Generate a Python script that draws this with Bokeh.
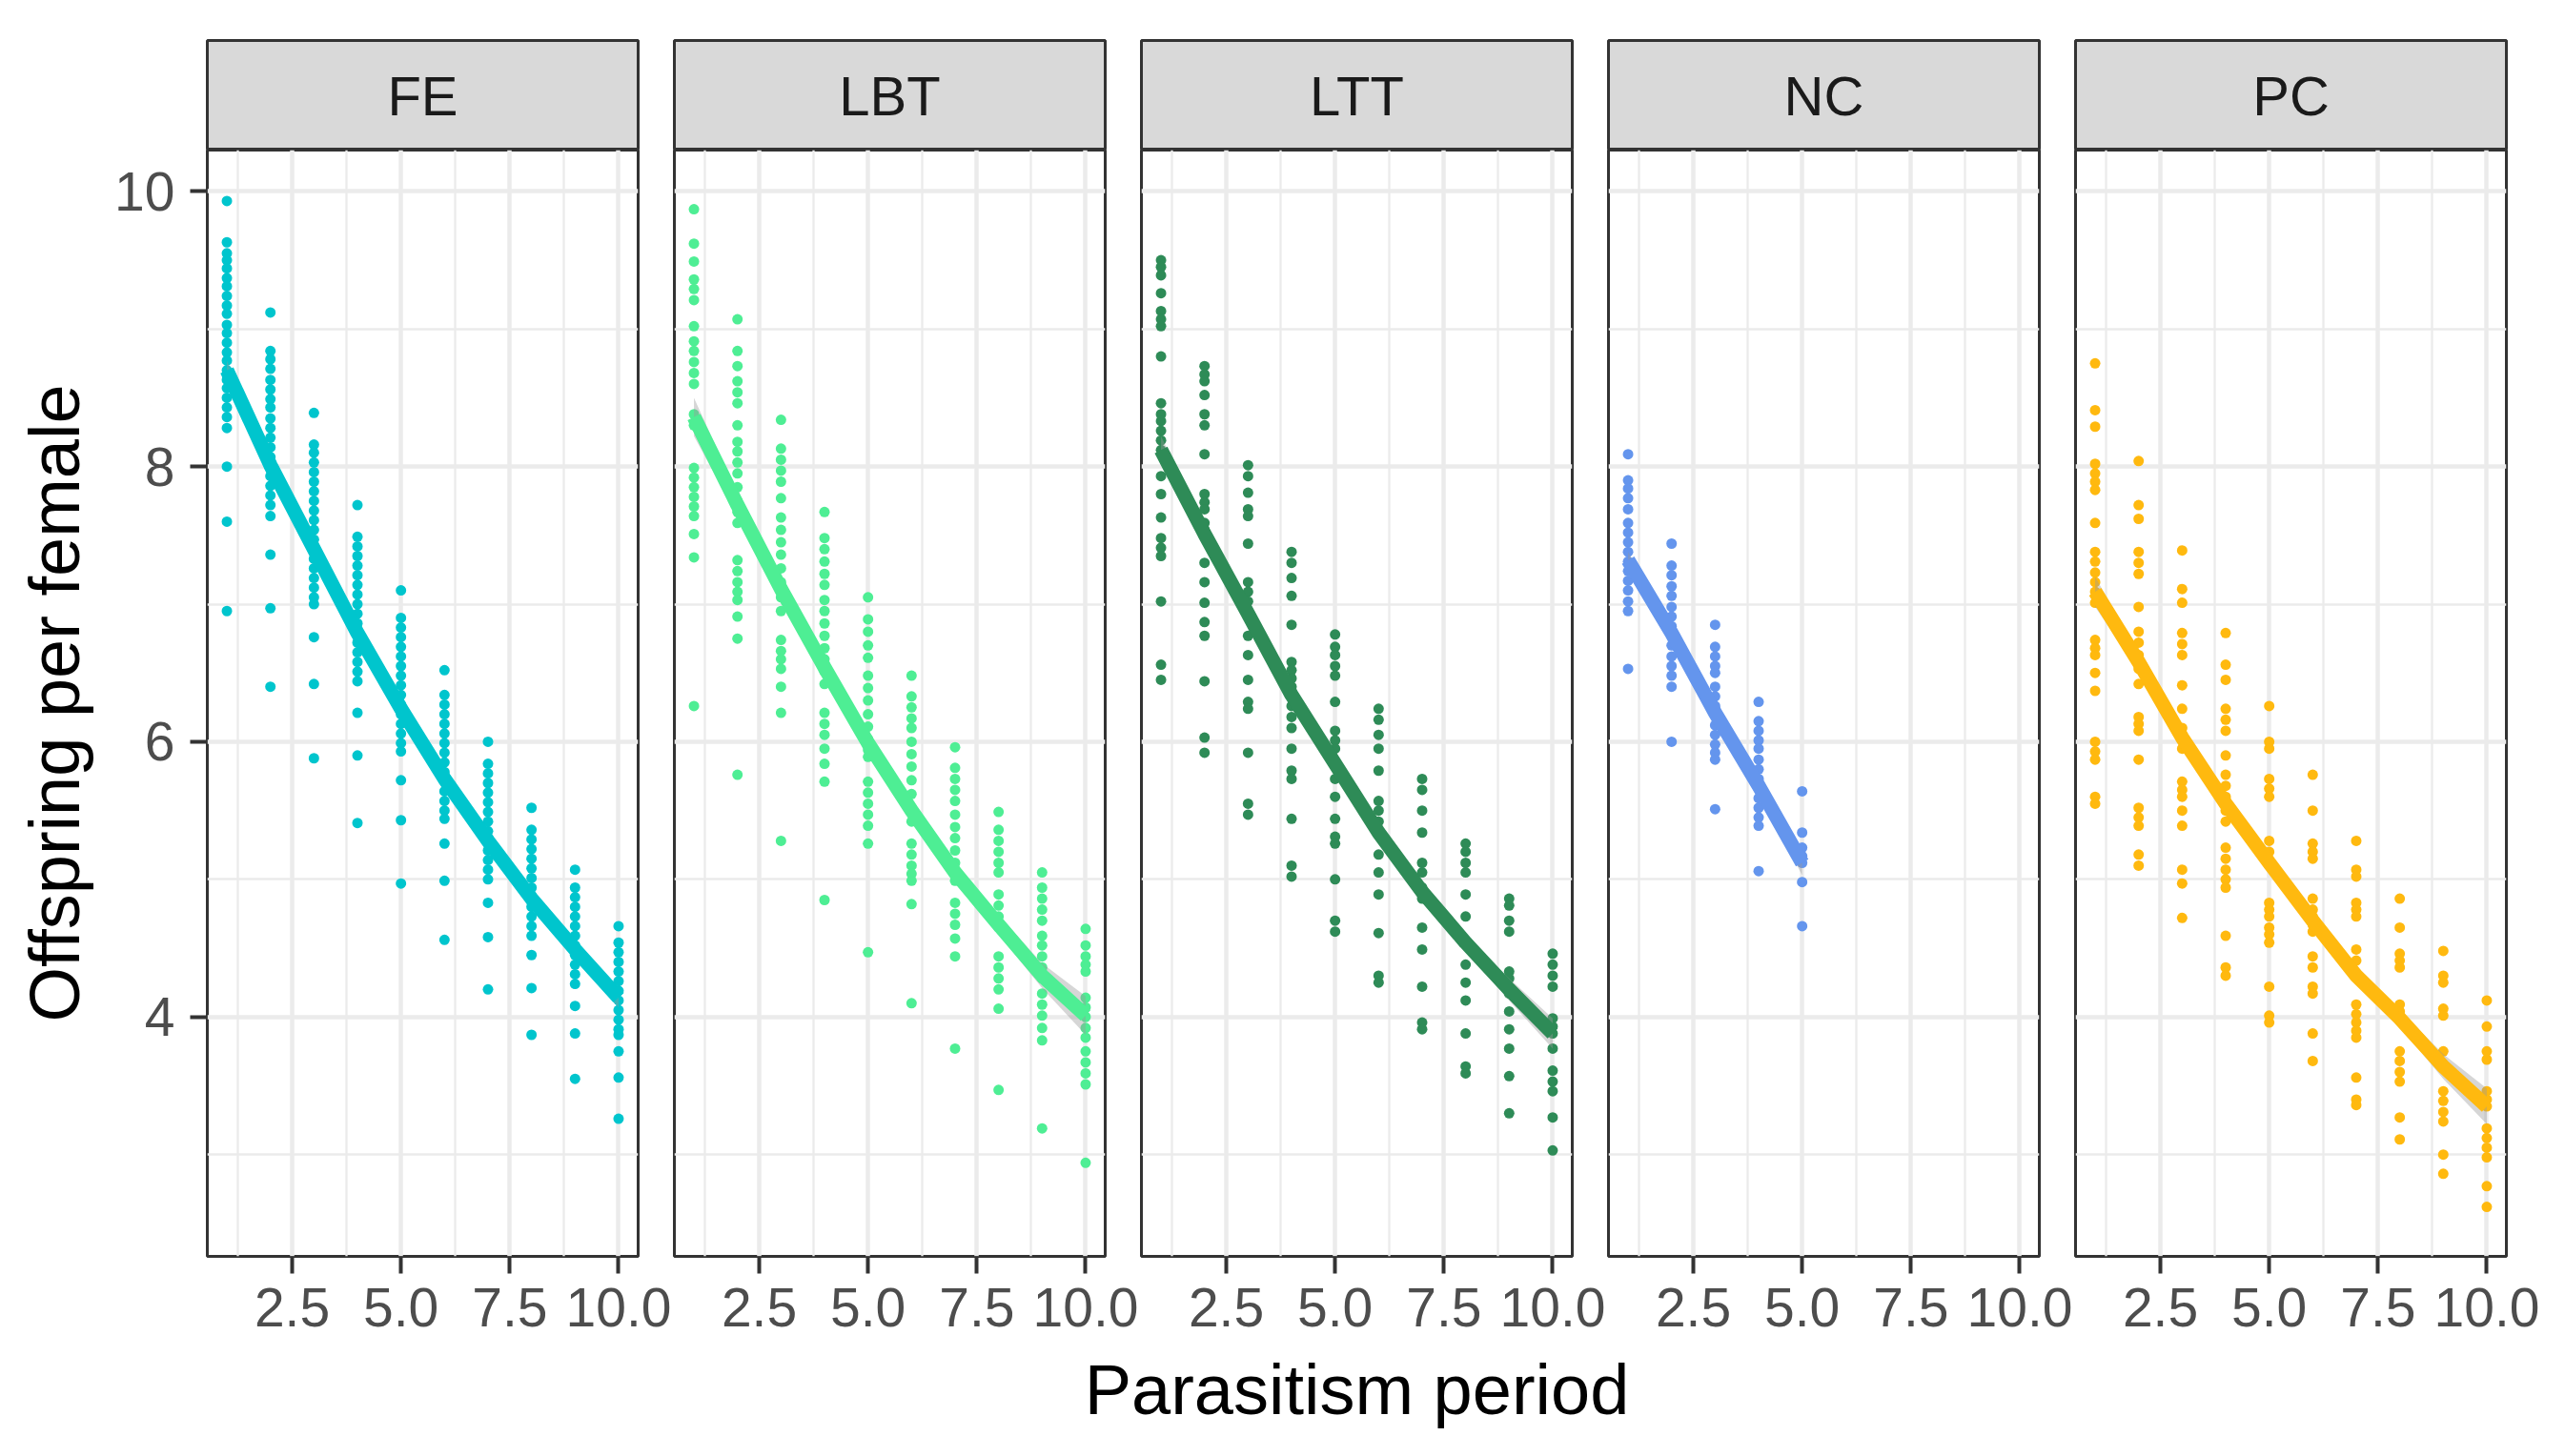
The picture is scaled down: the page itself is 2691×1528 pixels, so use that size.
from bokeh.plotting import figure
from bokeh.layouts import row, column
from bokeh.models import FixedTicker, PrintfTickFormatter
from bokeh.embed import file_html
from bokeh.resources import INLINE
from bokeh.core.properties import value

# ---------------- data ----------------
GROUPS = ["FE", "LBT", "LTT", "NC", "PC"]
COLORS = ["#00C5CD", "#4EEE94", "#2E8B57", "#6495ED", "#FFB90F"]
PERIODS = [1, 2, 3, 4, 5, 6, 7, 8, 9, 10]

X_TICKS = [2.5, 5.0, 7.5, 10.0]
X_MINOR = [1.25, 3.75, 6.25, 8.75]
Y_TICKS = [4, 6, 8, 10]
Y_MINOR = [3, 5, 7, 9]

X_LABEL = "Parasitism period"
Y_LABEL = "Offspring per female"

FE_POINTS = [
    [9.93, 9.63, 9.55, 9.50, 9.44, 9.37, 9.31, 9.24, 9.17, 9.11, 9.03, 8.97, 8.90, 8.83, 8.77, 8.70, 8.63, 8.57, 8.50, 8.43, 8.36, 8.28, 8.00, 7.60, 6.95],
    [9.12, 8.84, 8.78, 8.71, 8.63, 8.56, 8.49, 8.43, 8.35, 8.28, 8.21, 8.14, 8.07, 8.00, 7.93, 7.86, 7.79, 7.72, 7.64, 7.36, 6.97, 6.40],
    [8.39, 8.16, 8.10, 8.03, 7.96, 7.89, 7.82, 7.75, 7.68, 7.61, 7.54, 7.47, 7.40, 7.33, 7.26, 7.19, 7.12, 7.05, 7.00, 6.76, 6.42, 5.88],
    [7.72, 7.49, 7.42, 7.35, 7.28, 7.21, 7.14, 7.07, 7.00, 6.93, 6.86, 6.79, 6.72, 6.65, 6.58, 6.51, 6.44, 6.21, 5.90, 5.41],
    [7.10, 6.90, 6.83, 6.76, 6.69, 6.62, 6.55, 6.48, 6.41, 6.34, 6.27, 6.20, 6.13, 6.06, 5.99, 5.93, 5.72, 5.43, 4.97],
    [6.52, 6.34, 6.27, 6.20, 6.13, 6.06, 5.99, 5.92, 5.85, 5.78, 5.71, 5.64, 5.57, 5.50, 5.44, 5.26, 4.99, 4.56],
    [6.00, 5.84, 5.77, 5.70, 5.63, 5.56, 5.49, 5.42, 5.35, 5.28, 5.21, 5.14, 5.07, 5.00, 4.83, 4.58, 4.20],
    [5.52, 5.36, 5.29, 5.22, 5.15, 5.08, 5.01, 4.94, 4.87, 4.80, 4.73, 4.66, 4.59, 4.45, 4.21, 3.87],
    [5.07, 4.94, 4.87, 4.80, 4.73, 4.66, 4.59, 4.52, 4.45, 4.38, 4.31, 4.24, 4.08, 3.88, 3.55],
    [4.66, 4.54, 4.47, 4.40, 4.33, 4.26, 4.19, 4.12, 4.05, 3.98, 3.91, 3.87, 3.75, 3.56, 3.26],
]
FE_FIT = [8.70, 8.01, 7.40, 6.79, 6.24, 5.73, 5.28, 4.86, 4.49, 4.14]
FE_SE = [0.07, 0.04, 0.03, 0.03, 0.03, 0.03, 0.03, 0.03, 0.04, 0.07]

LBT_POINTS = [
    [9.87, 9.62, 9.49, 9.36, 9.29, 9.21, 9.02, 8.91, 8.84, 8.76, 8.68, 8.60, 8.38, 8.30, 7.99, 7.92, 7.85, 7.78, 7.71, 7.64, 7.51, 7.34, 6.26],
    [9.07, 8.84, 8.73, 8.62, 8.54, 8.46, 8.30, 8.18, 8.11, 8.03, 7.95, 7.85, 7.75, 7.67, 7.59, 7.32, 7.24, 7.16, 7.09, 7.03, 6.91, 6.75, 5.76],
    [8.34, 8.13, 8.05, 7.97, 7.89, 7.77, 7.63, 7.54, 7.45, 7.36, 7.26, 7.16, 7.05, 6.95, 6.74, 6.66, 6.60, 6.53, 6.40, 6.21, 5.28],
    [7.67, 7.48, 7.40, 7.31, 7.22, 7.14, 7.03, 6.95, 6.86, 6.77, 6.68, 6.60, 6.51, 6.42, 6.21, 6.13, 6.05, 5.95, 5.84, 5.71, 4.85],
    [7.05, 6.89, 6.80, 6.70, 6.61, 6.48, 6.39, 6.30, 6.20, 6.11, 6.02, 5.94, 5.89, 5.71, 5.63, 5.55, 5.47, 5.39, 5.26, 4.47],
    [6.48, 6.33, 6.25, 6.17, 6.10, 6.00, 5.91, 5.82, 5.72, 5.62, 5.52, 5.42, 5.26, 5.18, 5.10, 5.04, 4.99, 4.82, 4.10],
    [5.96, 5.81, 5.73, 5.65, 5.57, 5.47, 5.38, 5.30, 5.21, 5.12, 5.05, 4.99, 4.83, 4.75, 4.67, 4.57, 4.44, 3.77],
    [5.49, 5.36, 5.28, 5.20, 5.12, 5.05, 4.89, 4.81, 4.73, 4.65, 4.44, 4.36, 4.28, 4.20, 4.06, 3.47],
    [5.05, 4.94, 4.86, 4.78, 4.70, 4.59, 4.52, 4.44, 4.36, 4.28, 4.17, 4.09, 4.01, 3.92, 3.83, 3.19],
    [4.64, 4.52, 4.44, 4.38, 4.33, 4.14, 4.07, 4.00, 3.92, 3.85, 3.75, 3.67, 3.59, 3.51, 2.94],
]
LBT_FIT = [8.36, 7.72, 7.11, 6.54, 5.99, 5.50, 5.05, 4.67, 4.30, 4.01]
LBT_SE = [0.14, 0.08, 0.05, 0.04, 0.04, 0.04, 0.05, 0.07, 0.09, 0.14]

LTT_POINTS = [
    [9.50, 9.45, 9.39, 9.26, 9.13, 9.07, 9.02, 8.80, 8.46, 8.38, 8.33, 8.26, 8.19, 8.12, 7.93, 7.80, 7.63, 7.48, 7.41, 7.35, 7.02, 6.56, 6.45],
    [8.73, 8.67, 8.62, 8.52, 8.38, 8.30, 8.09, 7.80, 7.74, 7.69, 7.59, 7.54, 7.30, 7.16, 7.01, 6.87, 6.77, 6.44, 6.03, 5.92],
    [8.01, 7.93, 7.81, 7.69, 7.64, 7.44, 7.16, 7.09, 7.02, 6.95, 6.77, 6.63, 6.45, 6.29, 6.24, 5.92, 5.55, 5.47],
    [7.38, 7.30, 7.19, 7.06, 6.85, 6.58, 6.52, 6.46, 6.40, 6.26, 6.18, 6.10, 5.95, 5.79, 5.73, 5.44, 5.10, 5.02],
    [6.78, 6.69, 6.63, 6.55, 6.48, 6.29, 6.08, 6.01, 5.95, 5.84, 5.73, 5.60, 5.44, 5.31, 5.26, 5.00, 4.70, 4.62],
    [6.24, 6.16, 6.05, 5.95, 5.79, 5.57, 5.50, 5.42, 5.34, 5.18, 5.05, 4.89, 4.61, 4.30, 4.25],
    [5.73, 5.65, 5.50, 5.34, 5.12, 5.05, 4.94, 4.86, 4.65, 4.49, 4.22, 3.96, 3.91],
    [5.26, 5.20, 5.12, 5.05, 4.89, 4.73, 4.54, 4.38, 4.25, 4.12, 3.88, 3.64, 3.59],
    [4.86, 4.81, 4.70, 4.62, 4.33, 4.28, 4.17, 4.04, 3.91, 3.77, 3.57, 3.30],
    [4.46, 4.38, 4.30, 4.22, 3.99, 3.93, 3.88, 3.77, 3.61, 3.53, 3.46, 3.27, 3.03],
]
LTT_FIT = [8.12, 7.51, 6.93, 6.34, 5.84, 5.34, 4.91, 4.54, 4.20, 3.88]
LTT_SE = [0.10, 0.06, 0.04, 0.04, 0.04, 0.04, 0.04, 0.05, 0.08, 0.11]

NC_POINTS = [
    [8.09, 7.90, 7.84, 7.77, 7.69, 7.59, 7.52, 7.45, 7.38, 7.31, 7.24, 7.17, 7.10, 7.02, 6.95, 6.53],
    [7.44, 7.28, 7.21, 7.13, 7.06, 6.98, 6.91, 6.84, 6.77, 6.70, 6.62, 6.55, 6.48, 6.40, 6.00],
    [6.85, 6.69, 6.62, 6.55, 6.50, 6.40, 6.33, 6.26, 6.19, 6.12, 6.05, 5.98, 5.92, 5.87, 5.51],
    [6.29, 6.15, 6.08, 6.01, 5.95, 5.87, 5.80, 5.73, 5.66, 5.59, 5.52, 5.45, 5.39, 5.06],
    [5.64, 5.34, 5.23, 5.17, 5.12, 4.98, 4.66],
]
NC_FIT = [7.32, 6.79, 6.21, 5.68, 5.12]
NC_SE = [0.06, 0.04, 0.04, 0.05, 0.09]

PC_POINTS = [
    [8.75, 8.41, 8.29, 8.02, 7.95, 7.89, 7.83, 7.59, 7.38, 7.31, 7.23, 7.16, 7.09, 7.01, 6.74, 6.68, 6.63, 6.50, 6.37, 6.00, 5.93, 5.87, 5.60, 5.55],
    [8.04, 7.72, 7.62, 7.38, 7.30, 7.22, 6.98, 6.80, 6.72, 6.63, 6.53, 6.42, 6.18, 6.13, 6.08, 5.87, 5.52, 5.45, 5.39, 5.18, 5.10],
    [7.39, 7.11, 7.01, 6.79, 6.71, 6.63, 6.41, 6.24, 6.10, 6.02, 5.95, 5.71, 5.65, 5.60, 5.50, 5.39, 5.07, 4.97, 4.72],
    [6.79, 6.56, 6.45, 6.24, 6.16, 6.08, 5.90, 5.76, 5.68, 5.60, 5.50, 5.42, 5.23, 5.15, 5.07, 5.00, 4.94, 4.59, 4.36, 4.30],
    [6.26, 6.00, 5.95, 5.73, 5.66, 5.60, 5.28, 5.20, 5.10, 4.83, 4.78, 4.73, 4.65, 4.60, 4.54, 4.22, 4.01, 3.96],
    [5.76, 5.50, 5.26, 5.20, 5.15, 4.86, 4.78, 4.73, 4.67, 4.62, 4.44, 4.36, 4.22, 4.17, 3.88, 3.68],
    [5.28, 5.07, 5.02, 4.83, 4.78, 4.73, 4.49, 4.41, 4.30, 4.09, 4.02, 3.96, 3.90, 3.85, 3.56, 3.40, 3.36],
    [4.86, 4.65, 4.46, 4.41, 4.36, 4.09, 4.04, 3.75, 3.68, 3.60, 3.53, 3.27, 3.11],
    [4.48, 4.30, 4.25, 4.06, 4.01, 3.75, 3.46, 3.39, 3.31, 3.24, 3.00, 2.86],
    [4.12, 3.93, 3.75, 3.69, 3.46, 3.40, 3.35, 3.19, 3.12, 3.05, 2.98, 2.77, 2.62],
]
PC_FIT = [7.09, 6.58, 6.03, 5.55, 5.12, 4.70, 4.30, 3.99, 3.64, 3.35]
PC_SE = [0.11, 0.06, 0.05, 0.04, 0.04, 0.04, 0.05, 0.06, 0.09, 0.13]

ALL_POINTS = [FE_POINTS, LBT_POINTS, LTT_POINTS, NC_POINTS, PC_POINTS]
ALL_FIT = [FE_FIT, LBT_FIT, LTT_FIT, NC_FIT, PC_FIT]
ALL_SE = [FE_SE, LBT_SE, LTT_SE, NC_SE, PC_SE]

# ---------------- layout / style ----------------
X_RANGE = (0.55, 10.45)
Y_RANGE = (2.26, 10.30)
FRAME_W = 452
PANEL_H = 1161
STRIP_H = 115
TOP = 42
LEFT0 = 217
GAP_L = 2
GAP_R = 36
RIGHT_LAST = 45
BOTTOM = 99
FONT = "Liberation Sans"
BORDER = "#333333"
GRID = "#EBEBEB"

strips = []
panels = []
for i, g in enumerate(GROUPS):
    left = LEFT0 if i == 0 else GAP_L
    right = RIGHT_LAST if i == len(GROUPS) - 1 else GAP_R
    color = COLORS[i]

    s = figure(frame_width=FRAME_W, frame_height=STRIP_H, x_range=(0, 1), y_range=(0, 1),
               x_axis_location=None, y_axis_location=None, toolbar_location=None,
               output_backend="svg", min_border_left=left, min_border_right=right,
               min_border_top=TOP, min_border_bottom=0)
    s.grid.visible = False
    s.background_fill_color = "#D9D9D9"
    s.border_fill_color = "white"
    s.outline_line_color = BORDER
    s.outline_line_width = 3
    s.text(x=[0.5], y=[0.5], text=[g], text_align="center", text_baseline="middle",
           text_font=value(FONT), text_font_size="58px", text_color="#1A1A1A")
    strips.append(s)

    p = figure(frame_width=FRAME_W, frame_height=PANEL_H, x_range=X_RANGE, y_range=Y_RANGE,
               y_axis_location="left" if i == 0 else None, toolbar_location=None,
               output_backend="svg", min_border_left=left, min_border_right=right,
               min_border_top=0, min_border_bottom=BOTTOM)
    p.background_fill_color = "white"
    p.border_fill_color = "white"
    p.outline_line_color = BORDER
    p.outline_line_width = 3

    xt = FixedTicker(ticks=X_TICKS, minor_ticks=X_MINOR)
    yt = FixedTicker(ticks=Y_TICKS, minor_ticks=Y_MINOR)
    p.xaxis.ticker = xt
    p.xgrid.ticker = xt
    p.ygrid.ticker = yt
    for gr in (p.xgrid, p.ygrid):
        gr.grid_line_color = GRID
        gr.grid_line_width = 4.5
        gr.minor_grid_line_color = GRID
        gr.minor_grid_line_width = 2.3

    axes = list(p.xaxis)
    if i == 0:
        p.yaxis.ticker = yt
        axes += list(p.yaxis)
    for ax in axes:
        ax.axis_line_color = None
        ax.major_tick_line_color = BORDER
        ax.major_tick_line_width = 4
        ax.major_tick_in = 0
        ax.major_tick_out = 18
        ax.minor_tick_line_color = None
        ax.major_label_text_font = FONT
        ax.major_label_text_font_size = "57px"
        ax.major_label_text_color = "#4D4D4D"
        ax.axis_label_text_font = FONT
        ax.axis_label_text_font_size = "74px"
        ax.axis_label_text_font_style = "normal"
        ax.axis_label_text_color = "black"
    p.xaxis.formatter = PrintfTickFormatter(format="%.1f")
    p.xaxis.major_label_standoff = 15
    if i == 0:
        p.yaxis.major_label_standoff = 16
        p.yaxis.axis_label_standoff = 18
        p.yaxis.axis_label = Y_LABEL

    pts = ALL_POINTS[i]
    fit = ALL_FIT[i]
    se = ALL_SE[i]
    xs_fit = PERIODS[:len(fit)]
    px, py = [], []
    for k, col in enumerate(pts):
        px += [PERIODS[k]] * len(col)
        py += col
    p.scatter(x=px, y=py, size=11, fill_color=color, line_color=None)
    lo = [f - e for f, e in zip(fit, se)]
    hi = [f + e for f, e in zip(fit, se)]
    p.varea(x=xs_fit, y1=lo, y2=hi, fill_color="#999999", fill_alpha=0.4)
    p.line(x=xs_fit, y=fit, line_color=color, line_width=15)
    panels.append(p)

# shared x-axis title: an axis spanning from the first panel's left edge to the last panel's right edge
total_frame = FRAME_W * len(GROUPS) + (GAP_L + GAP_R) * (len(GROUPS) - 1)
t = figure(frame_width=total_frame, frame_height=1, x_range=(0, 1), y_range=(0, 1),
           y_axis_location=None, toolbar_location=None, output_backend="svg",
           min_border_left=LEFT0, min_border_right=RIGHT_LAST, min_border_top=0, min_border_bottom=0)
t.grid.visible = False
t.outline_line_color = None
t.background_fill_color = "white"
t.border_fill_color = "white"
t.xaxis.ticker = FixedTicker(ticks=[])
t.xaxis.axis_line_color = None
t.xaxis.major_tick_line_color = None
t.xaxis.minor_tick_line_color = None
t.xaxis.major_tick_out = 0
t.xaxis.major_label_standoff = 0
t.xaxis.axis_label = X_LABEL
t.xaxis.axis_label_standoff = -2
t.xaxis.axis_label_text_font = FONT
t.xaxis.axis_label_text_font_size = "74px"
t.xaxis.axis_label_text_font_style = "normal"
t.xaxis.axis_label_text_color = "black"

layout = column(row(*strips), row(*panels), t)
open("out.html", "w").write(file_html(layout, INLINE))
